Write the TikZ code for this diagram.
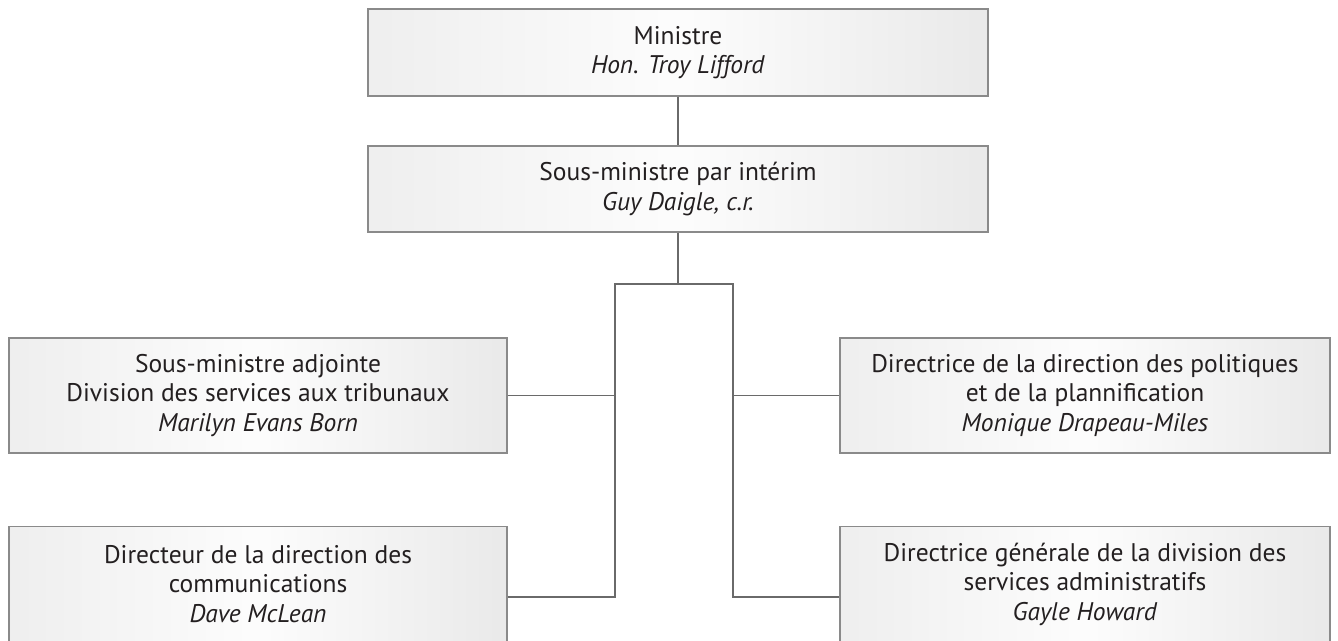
\documentclass[tikz,border=0pt]{standalone}
\usepackage{fontspec}
\setmainfont{PT Sans}
\definecolor{boxline}{HTML}{8A8A8A}
\definecolor{conn}{HTML}{6A6A6A}
\definecolor{txt}{HTML}{231F20}
\tikzset{
  orgbox/.style={draw=boxline, line width=1.3pt, shading=axis,
    left color=gray!13, right color=gray!17, middle color=gray!2,
    align=center, text=txt, inner sep=0pt,
    font=\fontsize{25.5}{29.5}\selectfont},
  wide/.style={minimum width=620pt, minimum height=87pt},
  sidel/.style={minimum width=498pt, minimum height=115pt},
  sider/.style={minimum width=490pt, minimum height=115pt},
  link/.style={draw=conn, line width=1.8pt}
}
\begin{document}
\begin{tikzpicture}[x=1pt,y=1pt]
\useasboundingbox (0,0) rectangle (1338,-640);
\clip (0,0) rectangle (1338,-640);
\node[orgbox,wide] (mn) at (678,-52.5) {Ministre\\\textit{Hon. Troy Lifford}};
\node[orgbox,wide,minimum height=86pt] (sm) at (678,-189) {Sous-ministre par intérim\\\textit{Guy Daigle, c.r.}};
\node[orgbox,sidel] (l1) at (258,-395.5) {Sous-ministre adjointe\\Division des services aux tribunaux\\\textit{Marilyn Evans Born}};
\node[orgbox,sider] (r1) at (1085,-395.5) {Directrice de la direction des politiques\\et de la plannification\\\textit{Monique Drapeau-Miles}};
\node[orgbox,sidel] (l2) at (258,-584) {Directeur de la direction des\\communications\\\textit{Dave McLean}};
\node[orgbox,sider] (r2) at (1085,-584) {Directrice générale de la division des\\services administratifs\\\textit{Gayle Howard}};
\coordinate (bl) at (615,-284);
\coordinate (br) at (733,-284);
\draw[link] (mn.south) -- (sm.north);
\draw[link] (sm.south) -- (sm.south |- bl);
\draw[link] ([yshift=-13pt]l2.east) -| (bl) -- (br) |- ([yshift=-13pt]r2.west);
\draw[link] (l1.east) -- (l1.east -| bl);
\draw[link] (r1.west) -- (r1.west -| br);
\end{tikzpicture}
\end{document}
